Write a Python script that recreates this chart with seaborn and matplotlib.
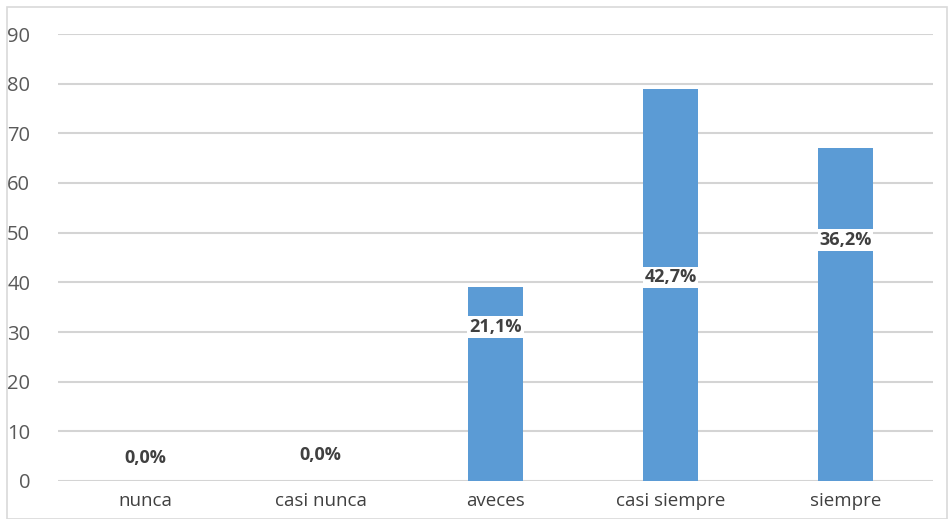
import pandas as pd
import matplotlib.pyplot as plt
import seaborn as sns

# datos
categorias = ["nunca", "casi nunca", "aveces", "casi siempre", "siempre"]
frecuencia = [0, 0, 39, 79, 67]
porcentajes = ["0,0%", "0,0%", "21,1%", "42,7%", "36,2%"]
altura_etiqueta = [4.6, 5.2, 31, 41, 48.5]

df = pd.DataFrame({"cat": categorias, "n": frecuencia})

sns.set_style("white")
plt.rcParams['font.family'] = ['Open Sans', 'DejaVu Sans']

fig = plt.figure(figsize=(9.49, 5.19), dpi=100)
ax = fig.add_axes([58/949, 38/519, 875/949, 447/519])

sns.barplot(data=df, x="cat", y="n", color="#5B9BD5", saturation=1, width=0.31,
            edgecolor="none", ax=ax, zorder=2)

ax.set_ylim(0, 90)
ax.set_yticks(range(0, 91, 10))
ax.yaxis.grid(True, color="#D4D4D4", linewidth=1.5, zorder=0)
ax.set_axisbelow(True)
for s in ax.spines.values():
    s.set_visible(False)
ax.set_xlabel("")
ax.set_ylabel("")
ax.tick_params(axis="y", length=0, pad=20, labelsize=14.5, labelcolor="#595959")
ax.tick_params(axis="x", length=0, pad=8, labelsize=13.5, labelcolor="#404040")

for i, (txt, h) in enumerate(zip(porcentajes, altura_etiqueta)):
    ax.text(i, h, txt, ha="center", va="center", fontsize=13, fontweight="bold",
            color="#404040", zorder=3,
            bbox=dict(boxstyle="square,pad=0.1", facecolor="white", edgecolor="none"))

# marco
fig.patches.append(plt.Rectangle((7/949, 0), 940/949, 512/519, transform=fig.transFigure,
                                 fill=False, edgecolor="#D9D9D9", linewidth=1.2))

fig.savefig("out.png", dpi=100)
